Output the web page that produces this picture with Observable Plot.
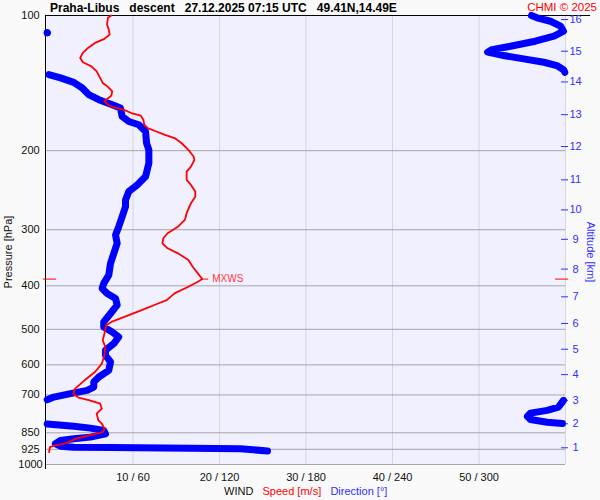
<!DOCTYPE html>
<html><head><meta charset="utf-8">
<script src="https://cdn.jsdelivr.net/npm/d3@7"></script>
<script src="https://cdn.jsdelivr.net/npm/@observablehq/plot@0.6"></script>
<style>
body{margin:0;background:#f9f9f9;}
svg{display:block}
</style>
</head><body><div id="chart"></div>
<script>
// ---- tick labels ----
const pressureTicks = [100, 200, 300, 400, 500, 600, 700, 850, 925, 1000];
const speedTicks = [10, 20, 30, 40, 50];
const altKm = [1, 2, 3, 4, 5, 6, 7, 8, 9, 10, 11, 12, 13, 14, 15, 16];
const altP  = [917.8, 811.6, 719.7, 630.7, 553.7, 485.2, 423.2, 367.1, 315.1, 271.0, 232.3, 195.8, 166.3, 140.6, 120.1, 102.1];

// ---- wind speed profile (hPa, m/s) ----
const speedP = [100,101.2,104.7,107.5,110.3,112.7,115.1,118.1,121.1,124.3,127.1,129.8,133.2,137.7,141.3,144.2,147.6,150.8,154.0,155.4,158.0,159.9,162.1,164.9,167.2,170.7,175.1,178.1,181.3,184.4,187.5,192.3,199.1,206.1,209.7,217.0,222.6,232.3,238.4,246.7,253.2,261.8,275.6,285.3,295.3,305.5,313.4,321.7,330.0,338.6,350.4,362.7,375.2,386.4,391.8,402.0,415.9,430.5,437.9,453.2,469.1,481.3,489.5,510.8,528.7,547.2,571.1,596.0,622.3,649.4,677.7,695.4,709.8,719.7,732.1,751.2,770.7,797.7,811.3,832.5,847.2,858.6,873.6,899,907,915,938.8];
const speedMs = [7.5,7.1,7.0,7.2,7.3,6.7,5.6,4.8,4.2,3.9,4.2,5.2,5.8,6.2,6.5,7.1,7.6,7.5,6.9,6.7,7.1,7.7,8.9,9.8,10.9,11.2,11.3,11.7,12.7,13.7,14.8,15.6,16.4,17.0,17.1,16.7,16.2,16.2,16.7,17.2,17.2,16.7,16.2,16.0,15.2,14.0,13.5,13.4,14.0,15.2,16.4,16.9,17.5,18.0,17.5,16.4,14.8,13.9,12.9,11.0,9.0,7.5,6.9,6.7,6.5,6.8,6.7,6.4,5.6,4.4,3.3,3.1,3.7,5.0,6.2,6.4,5.8,6.0,6.4,6.7,6.5,5.2,3.6,2.0,1.0,0.4,0.3];

// ---- wind direction profile (hPa, degrees); null = break at 360/0 wrap ----
const dirP = [
  100,101.2,103.0,105.6,108.4,111.2,114.1,117.1,119.1,120.7,122.8,124.9,127.1,129.3,132.0,133.8,
  null, 109.3, null,
  135.4,137.7,140.9,145.0,150.1,154.0,158.0,160.7,167.8,172.2,175.1,181.3,192.3,199.1,213.3,228.4,238.4,246.7,257.5,266.6,280.5,295.3,308.2,321.7,338.6,356.5,378.6,395.1,405.4,415.9,426.7,441.7,460.9,481.3,493.9,506.8,519.9,537.9,556.7,571.1,591.1,616.9,638.5,655.2,672.3,683.8,695.5,707.7,717.3,
  null,
  719.7,745.0,757.8,768.4,781.6,793.8,805.0,810.5,
  null,
  812,821.6,829.9,839.8,854.3,869.0,876.2,883.9,899.0,910.4,915.0,916.0,919.7,922.5,933
];
const dirDeg = [
  336.4,340.3,349.6,356.5,358.6,352.0,339.0,321.8,309.0,306.0,317.2,331.0,345.0,354.0,358.6,359.5,
  null, 0.5, null,
  1.6,9.7,18.9,24.8,29.3,36.3,45.6,51.3,52.5,57.1,64.0,68.7,69.4,71.0,71.0,68.7,62.9,57.1,54.8,54.8,52.5,50.1,47.9,49.0,46.7,44.4,43.2,39.7,38.6,42.1,47.9,49.0,44.4,39.7,39.7,45.6,50.1,46.7,40.9,40.9,44.4,43.2,36.3,32.8,32.8,28.2,16.6,5.1,0.5,
  null,
  358.6,355.1,347.3,335.7,333.6,335.7,347.3,357.9,
  null,
  0.5,18.9,30.5,39.7,40.9,30.5,18.9,9.7,6.2,9.7,18.9,44.4,99.9,134.6,153.3
];

const RED = "#ff0000", BLUE = "#0000ff", AXBLUE = "#3030ff";
const FONT = "Liberation Sans, Arial, Helvetica, sans-serif";

const speed = speedP.map((p, i) => ({p, v: speedMs[i]}));
const dir = dirP.map((p, i) => ({p, v: dirDeg[i] == null ? NaN : dirDeg[i] / 6}));
const isolated = dir.filter((d, i) => !isNaN(d.v) &&
  (i === 0 || isNaN(dir[i - 1].v)) && (i === dir.length - 1 || isNaN(dir[i + 1].v)));

const iMax = speedMs.indexOf(d3.max(speedMs));
const maxP = speedP[iMax], maxV = speedMs[iMax];

const chart = Plot.plot({
  width: 600,
  height: 500,
  marginTop: 15,
  marginBottom: 36,
  marginLeft: 46,
  marginRight: 35,
  style: {fontFamily: FONT, fontSize: "11px", background: "#f9f9f9", color: "#000", overflow: "visible"},
  x: {domain: [0, 60], axis: null},
  y: {type: "log", domain: [100, 1000], reverse: true, axis: null},
  marks: [
    Plot.frame({fill: "#f0f0ff", stroke: null}),
    Plot.ruleX([10, 20, 30, 40, 50, 60], {stroke: "#d6d6dc", strokeWidth: 1}),
    Plot.ruleY(pressureTicks.filter(p => p > 100), {stroke: "#a6a6a6", strokeWidth: 1}),
    Plot.ruleY([100], {x1: 0, x2: 62.9, stroke: "#000", strokeWidth: 1}),
    Plot.ruleX([0], {stroke: "#000", strokeWidth: 1, insetBottom: -5, dx: -1}),
    Plot.axisY(pressureTicks, {anchor: "left", tickSize: 0, tickPadding: 16, textAnchor: "middle", fontSize: 11, fill: "#111", label: null, tickFormat: d => String(d)}),
    Plot.axisX(speedTicks, {anchor: "bottom", tickSize: 0, tickPadding: 9, fontSize: 11, fill: "#111", label: null, tickFormat: d => `${d} / ${d * 6}`}),
    Plot.axisY(altP, {anchor: "right", tickSize: 7, dx: -5, tickPadding: 8, textAnchor: "middle", fontSize: 11, color: AXBLUE, label: null, tickFormat: d => String(altKm[altP.indexOf(d)])}),
    Plot.line(dir, {x: "v", y: "p", stroke: BLUE, strokeWidth: 7, strokeLinecap: "round", strokeLinejoin: "round"}),
    Plot.dot(isolated, {x: "v", y: "p", r: 3.5, fill: BLUE, stroke: null}),
    Plot.line(speed, {x: "v", y: "p", stroke: RED, strokeWidth: 1.8}),
    Plot.ruleY([maxP], {x1: -0.35, x2: 1.15, stroke: RED, strokeWidth: 1}),
    Plot.ruleY([maxP], {x1: 58.85, x2: 60.35, stroke: RED, strokeWidth: 1}),
    Plot.ruleY([maxP], {x1: maxV, x2: maxV + 0.75, stroke: RED, strokeWidth: 1}),
    Plot.text([maxP], {x: maxV, y: d => d, text: () => "MXWS", dx: 10, textAnchor: "start", fill: "#ff3a3a", fontSize: 10})
  ]
});

const svg = d3.select(chart);
svg.append("text")
  .attr("x", 50).attr("y", 12).attr("text-anchor", "start")
  .attr("font-family", FONT).attr("font-size", 12).attr("font-weight", "bold")
  .attr("fill", "#000")
  .style("white-space", "pre")
  .text("Praha-Libus   descent   27.12.2025 07:15 UTC   49.41N,14.49E");
svg.append("text")
  .attr("x", 597).attr("y", 11).attr("text-anchor", "end")
  .attr("font-family", FONT).attr("font-size", 11.5).attr("fill", RED)
  .text("CHMI © 2025");
svg.append("text")
  .attr("transform", "translate(12,252) rotate(-90)").attr("text-anchor", "middle")
  .attr("font-family", FONT).attr("font-size", 11).attr("fill", "#111")
  .text("Pressure [hPa]");
svg.append("text")
  .attr("transform", "translate(587,252) rotate(90)").attr("text-anchor", "middle")
  .attr("font-family", FONT).attr("font-size", 11).attr("fill", AXBLUE)
  .text("Altitude [km]");
const leg = svg.append("text").attr("x", 224).attr("y", 495).attr("text-anchor", "start")
  .attr("font-family", FONT).attr("font-size", 11).style("white-space", "pre");
leg.append("tspan").attr("fill", "#111").text("WIND   ");
leg.append("tspan").attr("fill", RED).text("Speed [m/s]   ");
leg.append("tspan").attr("fill", AXBLUE).text("Direction [°]");

document.getElementById("chart").appendChild(chart);
</script>
</body></html>
